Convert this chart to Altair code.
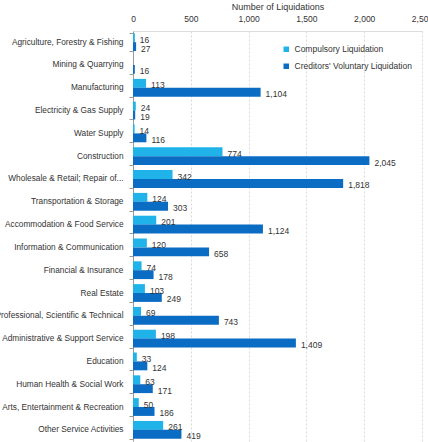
import altair as alt
import pandas as pd

categories = [
    "Agriculture, Forestry & Fishing", "Mining & Quarrying", "Manufacturing",
    "Electricity & Gas Supply", "Water Supply", "Construction",
    "Wholesale & Retail; Repair of...", "Transportation & Storage",
    "Accommodation & Food Service", "Information & Communication",
    "Financial & Insurance", "Real Estate",
    "Professional, Scientific & Technical", "Administrative & Support Service",
    "Education", "Human Health & Social Work",
    "Arts, Entertainment & Recreation", "Other Service Activities",
]
compulsory = [16, None, 113, 24, 14, 774, 342, 124, 201, 120, 74, 103, 69, 198, 33, 63, 50, 261]
creditors = [27, 16, 1104, 19, 116, 2045, 1818, 303, 1124, 658, 178, 249, 743, 1409, 124, 171, 186, 419]
series = ["Compulsory Liquidation", "Creditors' Voluntary Liquidation"]
colors = ["#1FB3EA", "#0B6CC3"]

rows = []
for c, a, b in zip(categories, compulsory, creditors):
    rows.append({"cat": c, "series": series[0], "value": a})
    rows.append({"cat": c, "series": series[1], "value": b})
df = pd.DataFrame(rows)

FONT = "Liberation Sans"

y = alt.Y("cat:N", sort=categories, title=None,
          scale=alt.Scale(paddingInner=0.22, paddingOuter=0.1),
          axis=alt.Axis(labelFont=FONT, labelFontSize=8.3, labelColor="#333333",
                        labelPadding=6, labelLimit=300, domainColor="#999999",
                        tickColor="#999999", tickSize=4, tickBand="extent",
                        grid=False))
x = alt.X("value:Q", title="Number of Liquidations",
          scale=alt.Scale(domain=[0, 2500], nice=False),
          axis=alt.Axis(orient="top", format=",.0f", values=[0, 500, 1000, 1500, 2000, 2500],
                        labelFont=FONT, labelFontSize=8.5, labelColor="#333333",
                        labelFlush=False, labelOverlap=False,
                        titleFont=FONT, titleFontSize=9, titleFontWeight="normal",
                        titleColor="#333333", titlePadding=3, labelPadding=8,
                        ticks=False, domainColor="#dddddd", grid=True,
                        gridColor="#d9d9d9", gridDash=[2, 2]))
color = alt.Color("series:N", sort=series,
                  scale=alt.Scale(domain=series, range=colors),
                  legend=alt.Legend(title=None, orient="none", legendX=149, legendY=14,
                                    symbolType="square", symbolSize=30,
                                    labelFont=FONT, labelFontSize=8.5,
                                    labelColor="#333333", rowPadding=8))
yoff = alt.YOffset("series:N", sort=series, scale=alt.Scale(paddingInner=0, paddingOuter=0))

bars = alt.Chart(df).mark_bar().encode(y=y, x=x, color=color, yOffset=yoff)

labels = alt.Chart(df).transform_filter("datum.value != null").mark_text(
    align="left", baseline="middle", dx=5, dy=2, font=FONT, fontSize=8.5, color="#333333"
).encode(y=alt.Y("cat:N", sort=categories), x="value:Q", yOffset=yoff,
         text=alt.Text("value:Q", format=","))

chart = (bars + labels).properties(
    width=289, height=410,
    autosize=alt.AutoSizeParams(type="none"),
    padding={"left": 133, "top": 31, "right": 6, "bottom": 1},
).configure_view(stroke=None)

chart.save("out.html", embed_options={"renderer": "svg", "actions": False})
